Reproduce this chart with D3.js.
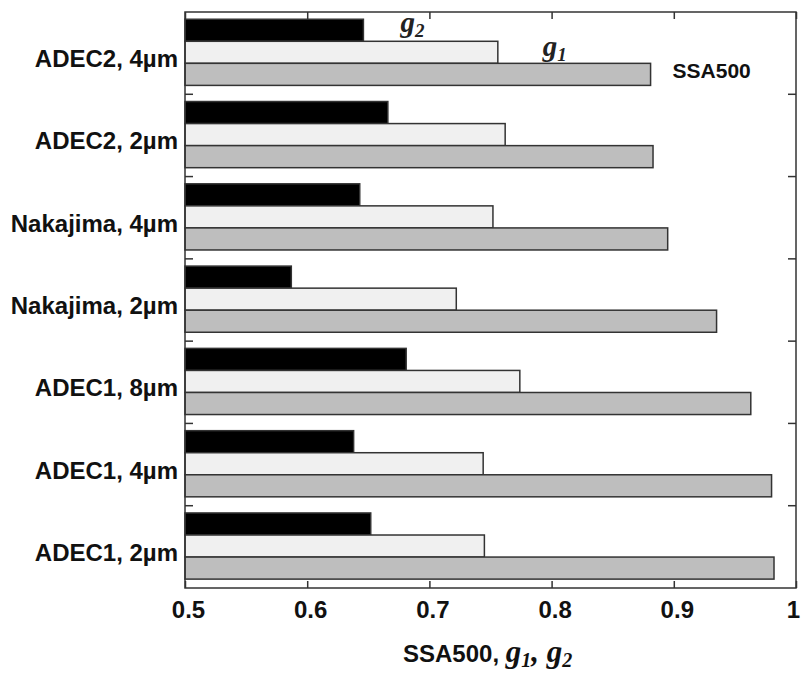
<!DOCTYPE html>
<html lang="en">
  <head>
    <title>SSA500, g1, g2 bar chart</title>
    <meta charset="utf-8" />
    <script type="text/javascript" src="https://d3js.org/d3.v7.min.js"></script>
    <style>
      body { margin: 0; background: #fff; }
      .sans { font-family: "Liberation Sans", Arial, sans-serif; font-weight: bold; }
      .serif { font-family: "Liberation Serif", "Times New Roman", serif; font-style: italic; font-weight: bold; }
    </style>
  </head>

  <body>
    <div class="div_d3"></div>

    <script type="text/javascript">
      let categories = [
        "ADEC2, 4µm",
        "ADEC2, 2µm",
        "Nakajima, 4µm",
        "Nakajima, 2µm",
        "ADEC1, 8µm",
        "ADEC1, 4µm",
        "ADEC1, 2µm",
      ];
      let g2Values = [0.646, 0.666, 0.643, 0.587, 0.681, 0.638, 0.652];
      let g1Values = [0.756, 0.762, 0.752, 0.722, 0.774, 0.744, 0.745];
      let ssaValues = [0.881, 0.883, 0.895, 0.935, 0.963, 0.98, 0.982];
      let xTicks = [0.5, 0.6, 0.7, 0.8, 0.9, 1];
      let seriesKeys = ["g2", "g1", "ssa"];
      let seriesFill = { g2: "#000000", g1: "#f0f0f0", ssa: "#bebebe" };

      let w = 801;
      let h = 673;
      let margin = { top: 12, right: 5, bottom: 85, left: 185 };

      let svg = d3
        .select(".div_d3")
        .append("svg")
        .attr("width", w)
        .attr("height", h);

      let x = d3
        .scaleLinear()
        .domain([0.5, 1])
        .range([margin.left, w - margin.right]);

      let y = d3
        .scaleBand()
        .domain(categories)
        .range([margin.top, h - margin.bottom]);

      // three bars inside each category band
      let ySub = d3
        .scaleBand()
        .domain(seriesKeys)
        .range([y.bandwidth() * 0.088, y.bandwidth() * 0.892]);

      let rows = categories.map(function (c, i) {
        return { cat: c, g2: g2Values[i], g1: g1Values[i], ssa: ssaValues[i] };
      });

      let groups = svg
        .selectAll("g.row")
        .data(rows)
        .join("g")
        .attr("class", "row")
        .attr("transform", function (d) {
          return `translate(0,${y(d.cat)})`;
        });

      groups
        .selectAll("rect")
        .data(function (d) {
          return seriesKeys.map(function (k) {
            return { key: k, value: d[k] };
          });
        })
        .join("rect")
        .attr("x", x(0.5))
        .attr("y", function (d) {
          return ySub(d.key);
        })
        .attr("width", function (d) {
          return x(d.value) - x(0.5);
        })
        .attr("height", ySub.bandwidth())
        .style("fill", function (d) {
          return seriesFill[d.key];
        })
        .style("stroke", "#333")
        .style("stroke-width", 1.5);

      // frame
      let x0 = margin.left;
      let x1 = w - margin.right;
      let y0 = margin.top;
      let y1 = h - margin.bottom;

      svg
        .append("rect")
        .attr("x", x0)
        .attr("y", y0)
        .attr("width", x1 - x0)
        .attr("height", y1 - y0)
        .style("fill", "none")
        .style("stroke", "#333")
        .style("stroke-width", 1.5);

      // bottom axis, ticks pointing in
      let xAxisBottom = svg
        .append("g")
        .attr("transform", `translate(0,${y1})`)
        .call(
          d3
            .axisBottom(x)
            .tickValues(xTicks)
            .tickSize(-7)
            .tickPadding(13)
            .tickFormat(function (d) {
              return d === 1 ? "1" : d3.format(".1f")(d);
            })
        );
      xAxisBottom.select(".domain").remove();
      xAxisBottom.selectAll("line").style("stroke", "#333").style("stroke-width", 1.5);
      xAxisBottom
        .selectAll("text")
        .attr("class", "sans")
        .style("font-size", "24px")
        .attr("dx", function (d) {
          return d === 1 ? -3 : 3;
        })
        .style("fill", "#111");

      // top axis ticks
      let xAxisTop = svg
        .append("g")
        .attr("transform", `translate(0,${y0})`)
        .call(d3.axisTop(x).tickValues(xTicks).tickSize(-7).tickFormat(""));
      xAxisTop.select(".domain").remove();
      xAxisTop.selectAll("line").style("stroke", "#333").style("stroke-width", 1.5);

      // left and right ticks at category boundaries
      let boundaries = categories.slice(1).map(function (c) {
        return y(c);
      });

      svg
        .selectAll("line.ltick")
        .data(boundaries)
        .join("line")
        .attr("class", "ltick")
        .attr("x1", x0)
        .attr("x2", x0 + 8)
        .attr("y1", function (d) {
          return d;
        })
        .attr("y2", function (d) {
          return d;
        })
        .style("stroke", "#333")
        .style("stroke-width", 1.5);

      svg
        .selectAll("line.rtick")
        .data(boundaries)
        .join("line")
        .attr("class", "rtick")
        .attr("x1", x1)
        .attr("x2", x1 - 8)
        .attr("y1", function (d) {
          return d;
        })
        .attr("y2", function (d) {
          return d;
        })
        .style("stroke", "#333")
        .style("stroke-width", 1.5);

      // category labels
      svg
        .selectAll("text.cat")
        .data(categories)
        .join("text")
        .attr("class", "cat sans")
        .attr("x", 178)
        .attr("y", function (d) {
          return y(d) + y.bandwidth() / 2 + 14;
        })
        .attr("text-anchor", "end")
        .style("font-size", "24px")
        .style("fill", "#111")
        .text(function (d) {
          return d;
        });

      // in-plot labels for the first group
      let first = categories[0];

      let g2Label = svg
        .append("text")
        .attr("x", x(g2Values[0]) + 37)
        .attr("y", y(first) + 20)
        .attr("class", "serif")
        .style("font-size", "29px")
        .style("fill", "#222");
      g2Label.append("tspan").text("g");
      g2Label.append("tspan").attr("dy", 5).style("font-size", "19px").text("2");

      let g1Label = svg
        .append("text")
        .attr("x", x(g1Values[0]) + 45)
        .attr("y", y(first) + 44)
        .attr("class", "serif")
        .style("font-size", "29px")
        .style("fill", "#222");
      g1Label.append("tspan").text("g");
      g1Label.append("tspan").attr("dy", 5).style("font-size", "19px").text("1");

      svg
        .append("text")
        .attr("x", x(ssaValues[0]) + 22)
        .attr("y", y(first) + 66)
        .attr("class", "sans")
        .style("font-size", "21px")
        .style("fill", "#111")
        .text("SSA500");

      // axis title
      let title = svg
        .append("text")
        .attr("x", 403)
        .attr("y", 662)
        .style("fill", "#111");
      title
        .append("tspan")
        .attr("class", "sans")
        .style("font-size", "24px")
        .text("SSA500, ");
      title.append("tspan").attr("class", "serif").style("font-size", "31px").text("g");
      title
        .append("tspan")
        .attr("class", "serif")
        .attr("dy", 5)
        .style("font-size", "20px")
        .text("1");
      title
        .append("tspan")
        .attr("class", "serif")
        .attr("dy", -5)
        .style("font-size", "31px")
        .text(", g");
      title
        .append("tspan")
        .attr("class", "serif")
        .attr("dy", 5)
        .style("font-size", "20px")
        .text("2");
    </script>
  </body>
</html>
